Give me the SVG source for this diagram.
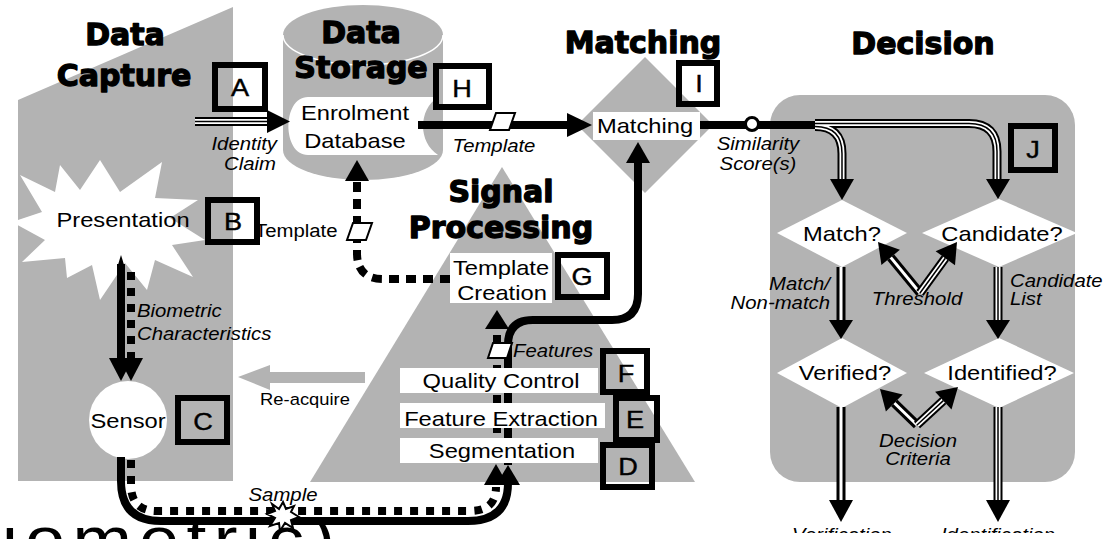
<svg xmlns="http://www.w3.org/2000/svg" width="1120" height="539" viewBox="0 0 1120 539">
<style>
.bg{fill:#b3b3b3}
.h{font-family:"DejaVu Sans",sans-serif;font-weight:bold;font-size:30px;text-anchor:middle;fill:#000;stroke:#000;stroke-width:1.3;stroke-linejoin:round}
.t{font-family:"Liberation Sans",Arial,sans-serif;font-size:21px;text-anchor:middle;fill:#000}
.i{font-family:"Liberation Sans",Arial,sans-serif;font-size:18px;font-style:italic;text-anchor:middle;fill:#000}
.s{text-anchor:start}
.e{text-anchor:end}
.wb{fill:#fff}
.lb{fill:none;stroke:#000;stroke-width:6}
.lt{font-family:"Liberation Sans",Arial,sans-serif;font-size:24px;text-anchor:middle;fill:#000;stroke:#000;stroke-width:0.4}
.sol{fill:none;stroke:#000;stroke-width:8}
.dot{fill:none;stroke:#000;stroke-width:8;stroke-dasharray:8 8}
.ah{fill:#000}
.k1{fill:none;stroke:#000;stroke-width:9}
.w2{fill:none;stroke:#fff;stroke-width:3}
.w3{fill:none;stroke:#fff;stroke-width:5}
.k3{fill:none;stroke:#000;stroke-width:1.5}
.pg{fill:#fff;stroke:#000;stroke-width:2}
.big{font-family:"Liberation Sans",Arial,sans-serif;font-size:62px;letter-spacing:6.5px;fill:#000}
</style>
<defs>
<clipPath id="cut"><rect x="0" y="0" width="1120" height="533"/></clipPath>
<clipPath id="low"><rect x="0" y="524" width="1120" height="15"/></clipPath>
<path id="pIC" d="M195 121.5H268"/>
<path id="pCand" d="M815 123.5H969Q997 123.5 997 151.5V182"/>
<path id="pMatch" d="M815 126.5Q842 126.5 842 153.5V182"/>
<path id="pMV" d="M841 267V322"/>
<path id="pCI" d="M998 267V322"/>
<path id="pVd" d="M841 407V502"/>
<path id="pId" d="M998 407V502"/>
<path id="pThL" d="M920 293L890.7 257.4"/>
<path id="pThR" d="M920 293L945.3 258.2"/>
<path id="pDcL" d="M917 425L894.3 403"/>
<path id="pDcR" d="M917 425L943.3 400.6"/>
</defs>
<rect x="0" y="0" width="1120" height="539" fill="#fff"/>

<g id="region-capture">
<polygon class="bg" points="18,100 233,7 233,481 18,481"/>
<text class="h" x="125" y="45">Data</text>
<text class="h" x="124" y="86">Capture</text>
</g>
<g id="region-storage">
<path class="bg" d="M283 35V150A80 30 0 0 0 443 150V35A80 30 0 0 0 283 35Z"/>
<path d="M283 35A80 30 0 0 0 443 35" fill="none" stroke="#fff" stroke-width="1.5"/>
<text class="h" x="361" y="43">Data</text>
<text class="h" x="361" y="78">Storage</text>
</g>
<g id="region-signal">
<polygon class="bg" points="502,167 695,482 310,482"/>
<text class="h" x="501" y="202">Signal</text>
<text class="h" x="501" y="238">Processing</text>
</g>
<g id="region-matching">
<polygon class="bg" points="645,57 713,125 645,193 577,125"/>
<text class="h" x="643" y="53">Matching</text>
</g>
<g id="region-decision">
<rect class="bg" x="770" y="95" width="305" height="387" rx="30"/>
<text class="h" x="923" y="54">Decision</text>
</g>

<g id="node-presentation">
<polygon class="wb" points="100,160 120,192 162,162 155,198 198,200 170,218 205,240 172,245 193,277 155,260 147,290 125,263 100,300 92,265 67,278 65,258 22,262 45,240 12,222 42,212 20,175 55,192 60,165 80,190"/>
<text class="t" transform="translate(123,227) scale(1.13,1)">Presentation</text>
</g>
<g id="node-database">
<path class="wb" d="M308 97H438C418 110 418 142 438 155H308C282 155 282 97 308 97Z"/>
<text class="t" transform="translate(355,120) scale(1.13,1)">Enrolment</text>
<text class="t" transform="translate(355,148) scale(1.13,1)">Database</text>
</g>
<g id="node-matching">
<rect class="wb" x="593" y="112" width="107" height="28"/>
<text class="t" transform="translate(645,133) scale(1.13,1)">Matching</text>
</g>
<g id="node-sensor">
<circle class="wb" cx="128" cy="420" r="39"/>
<text class="t" transform="translate(128,428) scale(1.13,1)">Sensor</text>
</g>
<g id="node-match-q">
<polygon class="wb" points="842,200 907,233 842,267 777,233"/>
<text class="t" transform="translate(842,241) scale(1.13,1)">Match?</text>
</g>
<g id="node-candidate-q">
<polygon class="wb" points="999,199 1077,233 999,267 922,233"/>
<text class="t" transform="translate(1002,241) scale(1.13,1)">Candidate?</text>
</g>
<g id="node-verified-q">
<polygon class="wb" points="842,338 907,373 842,408 777,373"/>
<text class="t" transform="translate(845,380) scale(1.13,1)">Verified?</text>
</g>
<g id="node-identified-q">
<polygon class="wb" points="999,338 1074,373 999,408 924,373"/>
<text class="t" transform="translate(1002,380) scale(1.13,1)">Identified?</text>
</g>

<g id="connectors">
<use href="#pIC" class="k1"/><use href="#pIC" class="w3"/><use href="#pIC" class="k3"/>
<polygon class="ah" points="267,110 290,121.5 267,133"/>
<text class="i e" transform="translate(277,150) scale(1.13,1)">Identity</text>
<text class="i e" transform="translate(276,170) scale(1.13,1)">Claim</text>
<path class="sol" d="M418 125H570" stroke-width="7"/>
<polygon class="ah" points="567,113 592,125 567,137"/>
<polygon class="pg" points="496,113 515,113 509,130 490,130"/>
<text class="i" transform="translate(494,152) scale(1.13,1)">Template</text>
<path class="dot" d="M450 279H383Q357 279 357 253V181" style="stroke-dasharray:10 7"/>
<polygon class="ah" points="345,181 357,160 369,181"/>
<polygon class="pg" points="353,223 372,223 366,240 347,240"/>
<text class="t s" style="font-size:18px" transform="translate(255,237) scale(1.13,1)">Template</text>
<path class="sol" d="M121 264V360"/>
<polygon class="ah" points="117,268 121,255 125,268"/>
<path class="dot" d="M131 272V358"/>
<polygon class="ah" points="109,358 121,381 133,358"/>
<polygon class="ah" points="119,358 131,381 143,358"/>
<text class="i s" transform="translate(137,317) scale(1.13,1)">Biometric</text>
<text class="i s" transform="translate(137,340) scale(1.13,1)">Characteristics</text>
<polygon class="bg" points="238,377 270,365 270,372 365,372 365,383 270,383 270,390"/>
<text class="t" style="font-size:17px" transform="translate(305,405) scale(1.08,1)">Re-acquire</text>
<path class="sol" d="M121 457V481Q121 521 161 521H468Q508 521 508 483"/>
<path class="dot" d="M131 460V485Q131 511 157 511H470Q496 511 496 487"/>
<polygon class="ah" points="496,485 508,465 520,485"/>
<polygon class="ah" points="484,485 496,464 508,485"/>
<polygon class="pg" points="283,502 286,509 294,506 291,512 299,517 291,520 293,528 285,523 280,531 279,523 270,526 275,518 267,514 275,511 272,504 279,509"/>
<text class="i" transform="translate(283,501) scale(1.13,1)">Sample</text>
<path class="sol" d="M508 465V345Q508 320 533 320H612Q638 320 638 294V160"/>
<polygon class="ah" points="626,163 638,142 650,163"/>
<path class="dot" d="M497 463V330" style="stroke-dasharray:8 7"/>
<polygon class="ah" points="485,329 497,310 509,329"/>
<polygon class="pg" points="493,343 512,343 507,358 488,358"/>
<text class="i s" transform="translate(513,357) scale(1.13,1)">Features</text>
<path class="sol" d="M700 125H822" stroke-width="7"/>
<use href="#pCand" class="k1"/><use href="#pMatch" class="k1"/>
<use href="#pCand" class="w3"/><use href="#pMatch" class="w3"/>
<use href="#pCand" class="k3"/><use href="#pMatch" class="k3"/>
<polygon class="ah" points="830,179 854,179 842,200"/>
<polygon class="ah" points="986,179 1010,179 998,199"/>
<circle cx="752" cy="124" r="6.5" fill="#fff" stroke="#000" stroke-width="3"/>
<text class="i" transform="translate(758,150) scale(1.13,1)">Similarity</text>
<text class="i" transform="translate(758,170) scale(1.13,1)">Score(s)</text>
<use href="#pMV" class="k1"/><use href="#pMV" class="w2"/>
<polygon class="ah" points="829,320 853,320 841,339"/>
<use href="#pCI" class="k1"/><use href="#pCI" class="w3"/><use href="#pCI" class="k3"/>
<polygon class="ah" points="986,320 1010,320 998,339"/>
<use href="#pVd" class="k1"/><use href="#pVd" class="w2"/>
<polygon class="ah" points="829,500 853,500 841,522"/>
<use href="#pId" class="k1"/><use href="#pId" class="w3"/><use href="#pId" class="k3"/>
<polygon class="ah" points="986,500 1010,500 998,522"/>
<text class="i e" transform="translate(830,290) scale(1.13,1)">Match/</text>
<text class="i e" transform="translate(830,309) scale(1.13,1)">Non-match</text>
<text class="i s" transform="translate(1010,287) scale(1.13,1)">Candidate</text>
<text class="i s" transform="translate(1010,305) scale(1.13,1)">List</text>
<use href="#pThL" class="k1"/><use href="#pThL" class="w2"/>
<use href="#pThR" class="k1"/><use href="#pThR" class="w3"/><use href="#pThR" class="k3"/>
<polygon class="ah" points="878,242 899.9,249.8 881.4,265"/>
<polygon class="ah" points="957,242 955,265.2 935.6,251.2"/>
<text class="i" transform="translate(917,305) scale(1.13,1)">Threshold</text>
<use href="#pDcL" class="k1"/><use href="#pDcL" class="w2"/>
<use href="#pDcR" class="k1"/><use href="#pDcR" class="w3"/><use href="#pDcR" class="k3"/>
<polygon class="ah" points="880,389 902.7,394.4 885.9,411.6"/>
<polygon class="ah" points="958,387 951.5,409.4 935.1,391.8"/>
<text class="i" transform="translate(918,447) scale(1.13,1)">Decision</text>
<text class="i" transform="translate(918,465) scale(1.13,1)">Criteria</text>
<g clip-path="url(#cut)">
<text class="i" transform="translate(842,541) scale(1.13,1)">Verification</text>
<text class="i" transform="translate(998,541) scale(1.13,1)">Identification</text>
</g>
</g>

<g id="node-template-creation">
<rect class="wb" x="450" y="253" width="102" height="50"/>
<text class="t" transform="translate(501,275) scale(1.13,1)">Template</text>
<text class="t" transform="translate(502,300) scale(1.13,1)">Creation</text>
</g>
<g id="node-quality-control">
<rect class="wb" x="400" y="368" width="198" height="25"/>
<text class="t" transform="translate(501,388) scale(1.13,1)">Quality Control</text>
</g>
<g id="node-feature-extraction">
<rect class="wb" x="400" y="403" width="205" height="25"/>
<text class="t" transform="translate(501,426) scale(1.13,1)">Feature Extraction</text>
</g>
<g id="node-segmentation">
<rect class="wb" x="400" y="438" width="198" height="25"/>
<text class="t" transform="translate(502,458) scale(1.13,1)">Segmentation</text>
</g>

<g id="box-A"><rect class="lb" x="215" y="65" width="50" height="44"/><text class="lt" transform="translate(240,96) scale(1.13,1)">A</text></g>
<g id="box-B"><rect class="lb" x="208" y="200" width="49" height="42"/><text class="lt" transform="translate(233,230) scale(1.13,1)">B</text></g>
<g id="box-C"><rect class="lb" x="178" y="398" width="49" height="44"/><text class="lt" transform="translate(203,430) scale(1.13,1)">C</text></g>
<g id="box-D"><rect class="lb" x="603" y="445" width="49" height="42"/><text class="lt" transform="translate(628,475) scale(1.13,1)">D</text></g>
<g id="box-E"><rect class="lb" x="616" y="398" width="41" height="42"/><text class="lt" transform="translate(635,428) scale(1.13,1)">E</text></g>
<g id="box-F"><rect class="lb" x="603" y="351" width="44" height="41"/><text class="lt" transform="translate(626,382) scale(1.13,1)">F</text></g>
<g id="box-G"><rect class="lb" x="558" y="255" width="49" height="42"/><text class="lt" transform="translate(582,285) scale(1.13,1)">G</text></g>
<g id="box-H"><rect class="lb" x="436" y="66" width="53" height="41"/><text class="lt" transform="translate(462,97) scale(1.13,1)">H</text></g>
<g id="box-I"><rect class="lb" x="679" y="63" width="38" height="41"/><text class="lt" transform="translate(699,92) scale(1.13,1)">I</text></g>
<g id="box-J"><rect class="lb" x="1011" y="126" width="44" height="44"/><text class="lt" transform="translate(1033,158) scale(1.13,1)">J</text></g>

<g clip-path="url(#low)">
<text class="big" transform="translate(2,560) scale(1.15,1)">iometric)</text>
</g>
</svg>
